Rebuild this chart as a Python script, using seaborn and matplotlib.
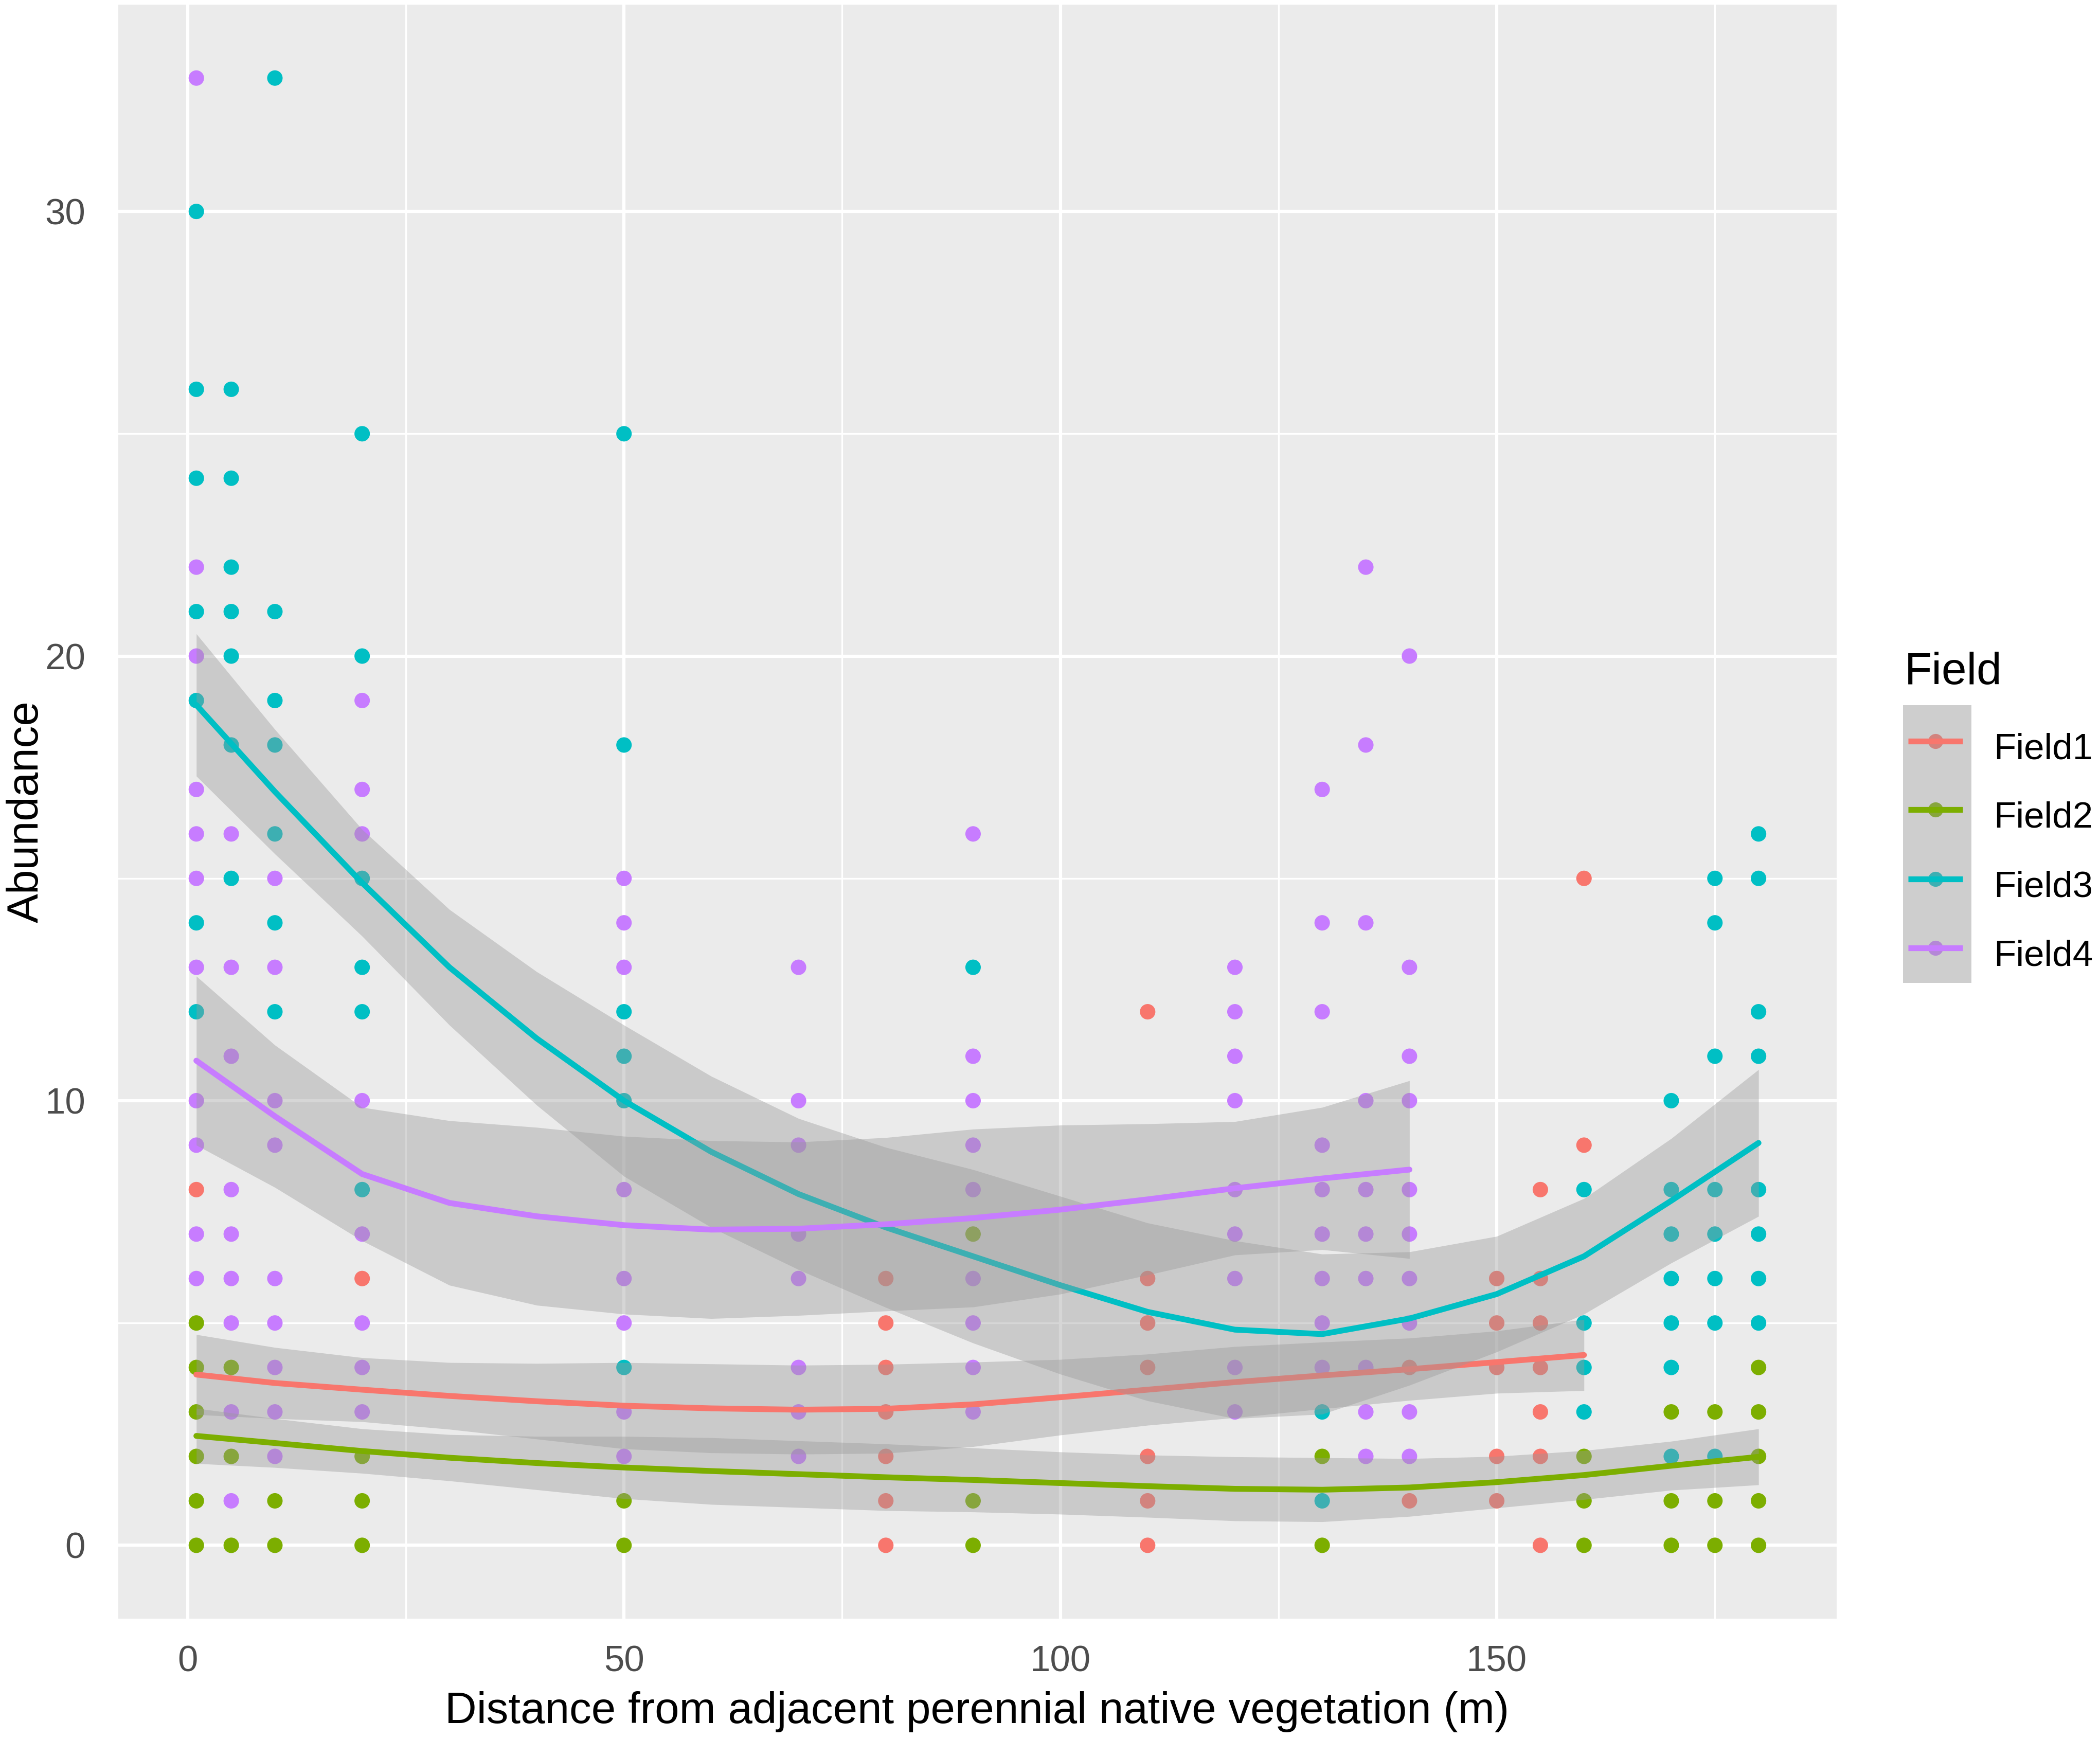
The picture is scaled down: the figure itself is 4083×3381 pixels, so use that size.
import matplotlib
matplotlib.use("Agg")
import matplotlib.pyplot as plt
from matplotlib.lines import Line2D
from matplotlib.patches import Rectangle
import seaborn as sns
import pandas as pd

# ---- data ----------------------------------------------------------------
fields = ["Field1", "Field2", "Field3", "Field4"]
colors = ["#F8766D", "#7CAE00", "#00BFC4", "#C77CFF"]

# abundance values observed at each distance (m)
field1_points = {1: [8], 20: [6], 80: [6, 5, 4, 3, 2, 1, 0],
                 110: [12, 6, 5, 4, 2, 1, 0], 140: [4, 1],
                 150: [6, 5, 4, 2, 1], 155: [8, 6, 5, 4, 3, 2, 0], 160: [15, 9]}
field2_points = {1: [5, 4, 3, 2, 1, 0], 5: [4, 2, 0], 10: [1, 0], 20: [2, 1, 0],
                 50: [1, 0], 90: [7, 1, 0], 130: [2, 0], 160: [2, 1, 0],
                 170: [3, 1, 0], 175: [3, 1, 0], 180: [4, 3, 2, 1, 0]}
field3_points = {1: [30, 26, 24, 21, 19, 14, 12], 5: [26, 24, 22, 21, 20, 18, 15],
                 10: [33, 21, 19, 18, 16, 14, 12], 20: [25, 20, 15, 13, 12, 8],
                 50: [25, 18, 12, 11, 10, 4], 90: [13], 130: [3, 1],
                 160: [8, 5, 4, 3], 170: [10, 8, 7, 6, 5, 4, 2],
                 175: [15, 14, 11, 8, 7, 6, 5, 2], 180: [16, 15, 12, 11, 8, 7, 6, 5]}
field4_points = {1: [33, 22, 20, 17, 16, 15, 13, 10, 9, 7, 6],
                 5: [16, 13, 11, 8, 7, 6, 5, 3, 1], 10: [15, 13, 10, 9, 6, 5, 4, 3, 2],
                 20: [19, 17, 16, 10, 7, 5, 4, 3], 50: [15, 14, 13, 8, 6, 5, 3, 2],
                 70: [13, 10, 9, 7, 6, 4, 3, 2], 90: [16, 11, 10, 9, 8, 6, 5, 4, 3],
                 120: [13, 12, 11, 10, 8, 7, 6, 4, 3], 130: [17, 14, 12, 9, 8, 7, 6, 5, 4],
                 135: [22, 18, 14, 10, 8, 7, 6, 4, 3, 2], 140: [20, 13, 11, 10, 8, 7, 6, 5, 3, 2]}

# smoothed trend and its confidence band
smooth_x_long = [1, 10, 20, 30, 40, 50, 60, 70, 80, 90, 100, 110, 120, 130, 140, 150, 160, 170, 180]
smooth_x_f1 = smooth_x_long[:17]
smooth_x_f4 = smooth_x_long[:15]

f1_fit = [3.84, 3.65, 3.5, 3.36, 3.24, 3.14, 3.08, 3.05, 3.07, 3.17, 3.33, 3.5, 3.67, 3.82, 3.96, 4.12, 4.28]
f1_low = [2.94, 2.85, 2.78, 2.61, 2.39, 2.17, 2.08, 2.05, 2.07, 2.22, 2.48, 2.7, 2.87, 3.07, 3.26, 3.42, 3.48]
f1_upp = [4.74, 4.45, 4.22, 4.11, 4.09, 4.11, 4.08, 4.05, 4.07, 4.12, 4.18, 4.3, 4.47, 4.57, 4.66, 4.82, 5.08]

f2_fit = [2.46, 2.3, 2.12, 1.97, 1.85, 1.75, 1.67, 1.6, 1.53, 1.47, 1.4, 1.33, 1.27, 1.25, 1.3, 1.42, 1.58, 1.79, 1.99]
f2_low = [1.84, 1.75, 1.62, 1.45, 1.25, 1.05, 0.92, 0.85, 0.78, 0.75, 0.7, 0.63, 0.55, 0.53, 0.65, 0.84, 1.03, 1.24, 1.36]
f2_upp = [3.08, 2.85, 2.62, 2.49, 2.45, 2.45, 2.42, 2.35, 2.28, 2.19, 2.1, 2.03, 1.99, 1.97, 1.95, 2.0, 2.13, 2.34, 2.62]

f3_fit = [18.9, 16.95, 14.9, 13.0, 11.4, 10.0, 8.85, 7.9, 7.15, 6.5, 5.85, 5.25, 4.85, 4.75, 5.1, 5.65, 6.5, 7.75, 9.05]
f3_low = [17.3, 15.55, 13.7, 11.7, 9.9, 8.3, 7.15, 6.2, 5.35, 4.55, 3.85, 3.25, 2.85, 2.95, 3.6, 4.35, 5.2, 6.35, 7.4]
f3_upp = [20.5, 18.35, 16.1, 14.3, 12.9, 11.7, 10.55, 9.6, 8.95, 8.45, 7.85, 7.25, 6.85, 6.55, 6.6, 6.95, 7.8, 9.15, 10.7]

f4_fit = [10.9, 9.65, 8.35, 7.7, 7.4, 7.2, 7.1, 7.12, 7.22, 7.36, 7.55, 7.78, 8.03, 8.25, 8.45]
f4_low = [9.0, 8.05, 6.85, 5.85, 5.4, 5.2, 5.1, 5.17, 5.27, 5.36, 5.65, 6.08, 6.53, 6.65, 6.45]
f4_upp = [12.8, 11.25, 9.85, 9.55, 9.4, 9.2, 9.1, 9.07, 9.17, 9.36, 9.45, 9.48, 9.53, 9.85, 10.45]

xticks = [0, 50, 100, 150]
yticks = [0, 10, 20, 30]

# ---- build tables -----------------------------------------------------------
rows = []
for name, pts in zip(fields, [field1_points, field2_points, field3_points, field4_points]):
    for dist, vals in pts.items():
        for v in vals:
            rows.append((name, dist, v))
df = pd.DataFrame(rows, columns=["Field", "Distance", "Abundance"])

smooth = [(smooth_x_f1, f1_fit, f1_low, f1_upp),
          (smooth_x_long, f2_fit, f2_low, f2_upp),
          (smooth_x_long, f3_fit, f3_low, f3_upp),
          (smooth_x_f4, f4_fit, f4_low, f4_upp)]

# ---- style --------------------------------------------------------------------
sns.set_theme(style="darkgrid")
plt.rcParams["font.family"] = ["Liberation Sans", "DejaVu Sans"]
panel_bg = "#EBEBEB"
band_col = "#999999"
line_w = 2.7
pt_size = 52

fig = plt.figure(figsize=(4083 / 300, 3381 / 300), dpi=300)
fig.patch.set_facecolor("white")
ax = fig.add_axes([0.0563, 0.0692, 0.8183, 0.9281])
ax.set_facecolor(panel_bg)

sns.scatterplot(data=df, x="Distance", y="Abundance", hue="Field",
                hue_order=fields, palette=colors, s=pt_size, linewidth=0,
                legend=False, ax=ax, zorder=2)

# ribbon then line per group, like geom_smooth
for i, (sx, fit, low, upp) in enumerate(smooth):
    ax.fill_between(sx, low, upp, color=band_col, alpha=0.4, linewidth=0,
                    zorder=3 + 2 * i)
    sns.lineplot(x=sx, y=fit, color=colors[i], linewidth=line_w, ax=ax,
                 zorder=4 + 2 * i)

ax.set_xlim(-7.95, 188.95)
ax.set_ylim(-1.65, 34.65)
ax.set_xticks(xticks)
ax.set_xticks([25, 75, 125, 175], minor=True)
ax.set_yticks(yticks)
ax.set_yticks([5, 15, 25], minor=True)
ax.grid(which="major", color="white", linewidth=1.5)
ax.grid(which="minor", color="white", linewidth=0.8)
ax.set_axisbelow(True)
for s in ax.spines.values():
    s.set_visible(False)
ax.tick_params(which="major", length=5.3, width=1.1, color="#333333",
               labelsize=17, labelcolor="#4D4D4D")
ax.tick_params(axis="x", which="major", pad=7)
ax.tick_params(axis="y", which="major", pad=10)
ax.tick_params(which="minor", length=0)
ax.set_xlabel("")
ax.set_ylabel("")

fig.text(0.4653, 0.0092, "Distance from adjacent perennial native vegetation (m)",
         ha="center", va="baseline", fontsize=20.5, color="black")
fig.text(0.0127, 0.5333, "Abundance", rotation=90, ha="center", va="center",
         fontsize=20.5, color="black")

# ---- legend drawn like ggplot's ------------------------------------------------
fig.text(0.9069, 0.6066, "Field", ha="left", va="baseline", fontsize=21, color="black")
key_x0, key_x1 = 0.9062, 0.9388
key_y0, key_y1 = 0.4348, 0.5945
key_ys = [0.5738, 0.5345, 0.4945, 0.4549]
fig.add_artist(Rectangle((key_x0, key_y0), key_x1 - key_x0, key_y1 - key_y0,
                         transform=fig.transFigure, facecolor="#F2F2F2",
                         edgecolor="none", zorder=1))
for ky, col in zip(key_ys, colors):
    fig.add_artist(Line2D([0.9216], [ky], marker="o", markersize=7,
                          markerfacecolor=col, markeredgewidth=0, linestyle="none",
                          transform=fig.transFigure, zorder=2))
fig.add_artist(Rectangle((key_x0, key_y0), key_x1 - key_x0, key_y1 - key_y0,
                         transform=fig.transFigure, facecolor=band_col, alpha=0.4,
                         edgecolor="none", zorder=3))
for ky, col, name in zip(key_ys, colors, fields):
    fig.add_artist(Line2D([0.9087, 0.9346], [ky, ky], color=col, linewidth=line_w,
                          solid_capstyle="butt", transform=fig.transFigure, zorder=4))
    fig.text(0.9493, ky - 0.0101, name, ha="left", va="baseline", fontsize=17,
             color="black")

fig.savefig("out.png", dpi=300, facecolor="white")
